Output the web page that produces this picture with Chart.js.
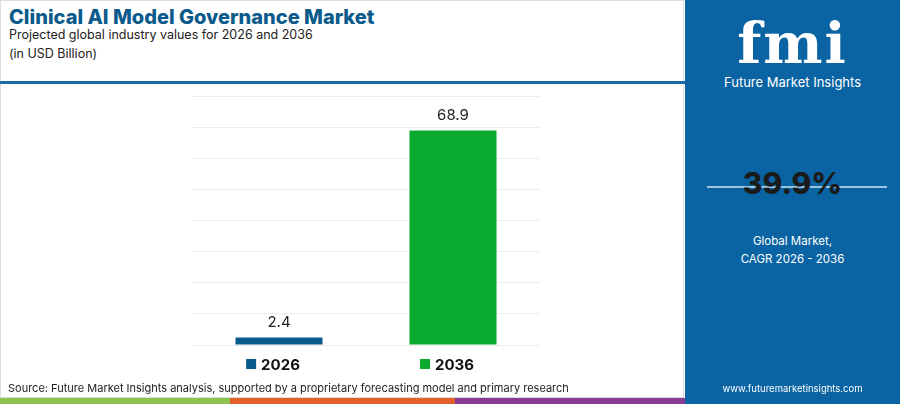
<!DOCTYPE html>
<html>
<head>
<meta charset="utf-8">
<script src="https://cdn.jsdelivr.net/npm/chart.js@4"></script>
<style>
  body { margin: 0; width: 900px; height: 404px; overflow: hidden; background: #fff; font-family: Inter, "Open Sans", sans-serif; position: relative; }
  #frame { position: absolute; left: 0; top: 0; width: 684px; height: 398px; border: 1px solid #dcdcdc; box-sizing: border-box; }
  h1 { position: absolute; left: 9px; top: 5px; margin: 0; font-size: 20px; font-weight: 800; color: #0b5a8c; }
  .sub { position: absolute; left: 9px; font-size: 12.5px; color: #222; }
  #rule { position: absolute; left: 0; top: 81px; width: 685px; height: 3px; background: #1a6ba6; }
  #chartbox { position: absolute; left: 0; top: 90px; width: 685px; height: 300px; }
  #source { position: absolute; left: 8px; top: 381px; font-size: 11px; color: #222; }
  .strip { position: absolute; top: 398px; height: 6px; }
  #panel { position: absolute; left: 685px; top: 0; width: 215px; height: 404px; background: #0a64a3; color: #fff; text-align: center; }
  #logo { position: absolute; top: 10px; width: 100%; font-family: "DejaVu Serif", serif; font-weight: bold; font-size: 56px; letter-spacing: 2px; }
  #brand { position: absolute; top: 74px; width: 100%; font-size: 13px; }
  #cagr { position: absolute; top: 165px; width: 100%; font-size: 30px; font-weight: 800; color: #1a1a1a; }
  #cagrline { position: absolute; left: 22px; top: 186px; width: 180px; height: 2px; background: #9cc3e0; }
  #gm { position: absolute; top: 232px; width: 100%; font-size: 11.5px; line-height: 18px; }
  #url { position: absolute; top: 383px; width: 100%; font-size: 9.5px; }
</style>
</head>
<body>
<div id="frame"></div>
<h1>Clinical AI Model Governance Market</h1>
<div class="sub" style="top:27px">Projected global industry values for 2026 and 2036</div>
<div class="sub" style="top:46px">(in USD Billion)</div>
<div id="rule"></div>
<div id="chartbox"><canvas id="chart"></canvas></div>
<div id="source">Source: Future Market Insights analysis, supported by a proprietary forecasting model and primary research</div>
<div class="strip" style="left:0;width:230px;background:#8dc44f"></div>
<div class="strip" style="left:230px;width:225px;background:#e4602b"></div>
<div class="strip" style="left:455px;width:230px;background:#8a3c94"></div>
<div id="panel">
  <div id="logo">fmi</div>
  <div id="brand">Future Market Insights</div>
  <div id="cagrline"></div>
  <div id="cagr">39.9%</div>
  <div id="gm">Global Market,<br>CAGR 2026 - 2036</div>
  <div id="url">www.futuremarketinsights.com</div>
</div>
<script>
const categories = ['2026', '2036'];
const values = [2.4, 68.9];
const barColors = ['#0b5a8e', '#0aaa2e'];
const yMax = 80;
const yStep = 10;

const labelPlugin = {
  id: 'labels',
  afterDatasetsDraw(chart) {
    const ctx = chart.ctx;
    const meta = chart.getDatasetMeta(0);
    ctx.save();
    meta.data.forEach((bar, i) => {
      ctx.fillStyle = '#222';
      ctx.font = '15px Inter, "Open Sans", sans-serif';
      ctx.textAlign = 'center';
      ctx.textBaseline = 'bottom';
      ctx.fillText(values[i].toFixed(1), bar.x, bar.y - 8);
      // category label with colour square
      ctx.font = 'bold 15px Inter, "Open Sans", sans-serif';
      const w = ctx.measureText(categories[i]).width;
      const total = 10 + 5 + w;
      const left = bar.x - total / 2 - 6;
      const y = chart.chartArea.bottom + 19;
      ctx.fillStyle = barColors[i];
      ctx.fillRect(left, y - 5, 10, 10);
      ctx.fillStyle = '#111';
      ctx.textAlign = 'left';
      ctx.textBaseline = 'middle';
      ctx.fillText(categories[i], left + 15, y + 1);
    });
    ctx.restore();
  }
};

new Chart(document.getElementById('chart'), {
  type: 'bar',
  data: {
    labels: categories,
    datasets: [{
      data: values,
      backgroundColor: barColors,
      barPercentage: 0.5,
      categoryPercentage: 1.0,
    }]
  },
  options: {
    responsive: true,
    maintainAspectRatio: false,
    animation: false,
    layout: { padding: { left: 192, right: 145, top: 6, bottom: 45 } },
    scales: {
      x: { display: false },
      y: {
        min: 0, max: yMax,
        ticks: { display: false, stepSize: yStep },
        grid: { color: '#ececec', drawTicks: false },
        border: { display: false },
      },
    },
    plugins: { legend: { display: false }, tooltip: { enabled: false } },
  },
  plugins: [labelPlugin],
});
</script>
</body>
</html>
